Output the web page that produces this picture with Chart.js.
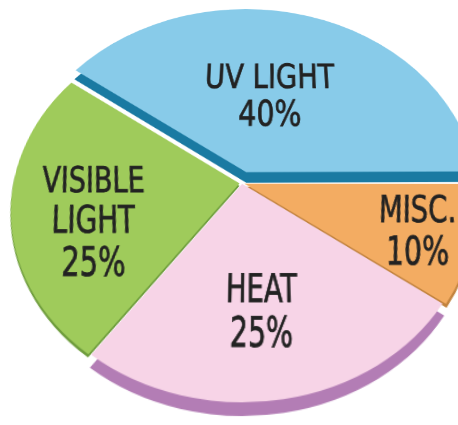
<!DOCTYPE html>
<html>
<head>
<meta charset="utf-8">
<script src="https://cdn.jsdelivr.net/npm/chart.js@4/dist/chart.umd.min.js"></script>
<style>
    html, body { margin: 0; padding: 0; background: #ffffff; overflow: hidden; }
    #wrap { width: 458px; height: 425px; overflow: hidden; position: relative; }
    #pieChart { position: absolute; }
</style>
</head>
<body>
<div id="wrap"><canvas id="pieChart" width="560" height="540"></canvas></div>
<script>
const categories = [['MISC.'], ['HEAT'], ['VISIBLE', 'LIGHT'], ['UV LIGHT']];
const shares = [10, 25, 25, 40];
const sliceColors = ['#f3ac62', '#f7d4e7', '#9fcb5b', '#88cbe9'];
const sideColors = ['#c2833e', '#b37db5', '#6e9c3c', '#1a7aa2'];

// the flat pie is tipped back in perspective, like the printed one
const TILT = 34.6;
const PERSP = 871;
const APEX = { x: 242, y: 183 };   // where the slices meet on the page
const CENTER = { x: 280, y: 270 }; // pie centre inside the canvas
const cosT = Math.cos(TILT * Math.PI / 180);
const sinT = Math.sin(TILT * Math.PI / 180);

const canvas = document.getElementById('pieChart');
canvas.style.left = (APEX.x - CENTER.x) + 'px';
canvas.style.top = (APEX.y - CENTER.y) + 'px';
canvas.style.transformOrigin = CENTER.x + 'px ' + CENTER.y + 'px';
canvas.style.transform = 'perspective(' + PERSP + 'px) rotateX(' + TILT + 'deg)';

// side faces: the same wedge drawn lower in a darker colour, under the slices
const depthPlugin = {
    id: 'depth',
    beforeDatasetsDraw(chart, args, opts) {
        const ctx = chart.ctx;
        chart.getDatasetMeta(0).data.forEach((arc, i) => {
            const d = opts.depth[i];
            if (!d) return;
            const ghost = Object.create(arc);
            ghost.options = Object.assign({}, arc.options, {
                backgroundColor: sideColors[i],
                borderColor: sideColors[i]
            });
            ctx.save();
            ctx.translate(0, d);
            ghost.draw(ctx);
            ctx.restore();
        });
    }
};

// text in each slice, scaled and sheared back so it reads flat on the page
const sliceLabels = {
    id: 'sliceLabels',
    afterDatasetsDraw(chart, args, opts) {
        const ctx = chart.ctx;
        chart.getDatasetMeta(0).data.forEach((arc, i) => {
            const p = arc.getProps(['x', 'y', 'startAngle', 'endAngle', 'outerRadius'], true);
            const mid = (p.startAngle + p.endAngle) / 2 + opts.turn[i] * Math.PI / 180;
            const r = p.outerRadius * opts.radius[i];
            const dx = Math.cos(mid) * r;
            const dy = Math.sin(mid) * r;
            const s = PERSP / (PERSP - dy * sinT);
            const shear = -dx * s * sinT / PERSP;
            const lines = categories[i].concat([shares[i] + '%']);
            ctx.save();
            ctx.translate(p.x + dx, p.y + dy);
            ctx.transform(1, 0, shear, 1, 0, 0);
            ctx.scale(0.84 / s, 1 / (s * cosT));
            ctx.fillStyle = '#222222';
            ctx.strokeStyle = '#222222';
            ctx.lineWidth = 0.7;
            ctx.font = '37px "Liberation Sans Narrow", "DejaVu Sans Condensed", "Liberation Sans", sans-serif';
            ctx.textAlign = 'center';
            ctx.textBaseline = 'middle';
            const lh = 40;
            lines.forEach((t, k) => {
                const ty = (k - (lines.length - 1) / 2) * lh;
                ctx.fillText(t, 0, ty);
                ctx.strokeText(t, 0, ty);
            });
            ctx.restore();
        });
    }
};

new Chart(canvas.getContext('2d'), {
    type: 'pie',
    data: {
        labels: categories,
        datasets: [{
            data: shares,
            backgroundColor: sliceColors,
            borderWidth: 0,
            offset: [10, 4, 10, 56]
        }]
    },
    options: {
        responsive: false,
        animation: false,
        rotation: 90,
        radius: 226,
        plugins: {
            legend: { display: false },
            tooltip: { enabled: false },
            depth: { depth: [4, 12, 3, 13] },
            sliceLabels: {
                radius: [0.79, 0.64, 0.67, 0.51],
                turn: [1, 2, -9, -3]
            }
        }
    },
    plugins: [depthPlugin, sliceLabels]
});
</script>
</body>
</html>
